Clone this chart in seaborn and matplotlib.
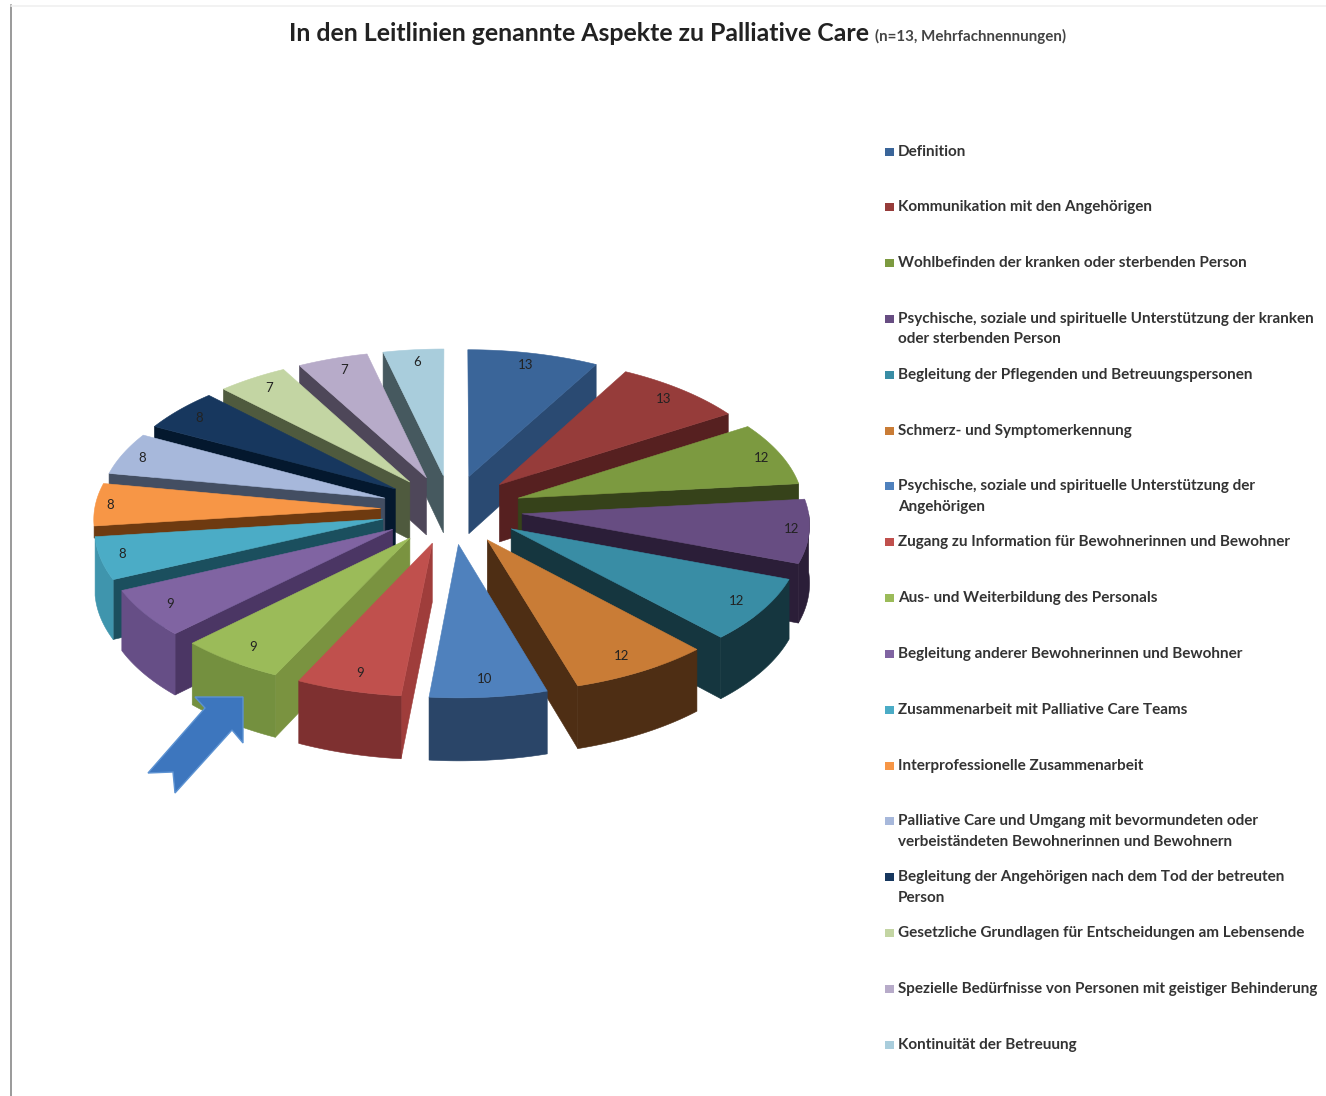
import numpy as np
import matplotlib
matplotlib.use("Agg")
import matplotlib.pyplot as plt
from matplotlib.patches import Polygon, Rectangle
import seaborn as sns

categories = [
    "Definition",
    "Kommunikation mit den Angehörigen",
    "Wohlbefinden der kranken oder sterbenden Person",
    "Psychische, soziale und spirituelle Unterstützung der kranken\noder sterbenden Person",
    "Begleitung der Pflegenden und Betreuungspersonen",
    "Schmerz- und Symptomerkennung",
    "Psychische, soziale und spirituelle Unterstützung der\nAngehörigen",
    "Zugang zu Information für Bewohnerinnen und Bewohner",
    "Aus- und Weiterbildung des Personals",
    "Begleitung anderer Bewohnerinnen und Bewohner",
    "Zusammenarbeit mit Palliative Care Teams",
    "Interprofessionelle Zusammenarbeit",
    "Palliative Care und Umgang mit bevormundeten oder\nverbeiständeten Bewohnerinnen und Bewohnern",
    "Begleitung der Angehörigen nach dem Tod der betreuten\nPerson",
    "Gesetzliche Grundlagen für Entscheidungen am Lebensende",
    "Spezielle Bedürfnisse von Personen mit geistiger Behinderung",
    "Kontinuität der Betreuung",
]
values = [13, 13, 12, 12, 12, 12, 10, 9, 9, 9, 8, 8, 8, 8, 7, 7, 6]
top_colors = ["#3A6599", "#963C3A", "#7C9A40", "#674D82", "#398DA5", "#C97C36",
              "#4F81BD", "#C0504D", "#9BBB59", "#8064A2", "#4BACC6", "#F79646",
              "#A7B8DB", "#17375E", "#C3D5A3", "#B7ABC9", "#A9CDDC"]
outer_colors = ["#2A4A72", "#562020", "#36421A", "#2B1E38", "#15363F", "#4E2E14",
                "#2A4568", "#7E3030", "#74903F", "#664E86", "#3F95AD", "#6E3A10",
                "#434E62", "#04182E", "#4F5A3E", "#4E4759", "#46595F"]
radial_colors = ["#2A4A72", "#562020", "#36421A", "#2B1E38", "#15363F", "#4E2E14",
                 "#2A4568", "#9F3D3B", "#7A9340", "#4B3664", "#1B4F5E", "#6E3A10",
                 "#434E62", "#04182E", "#4F5A3E", "#4E4759", "#46595F"]

sns.set_theme(style="white")
plt.rcParams["font.family"] = ["Lato", "DejaVu Sans"]
palette = sns.color_palette(top_colors)

W, H = 1326, 1096
fig = plt.figure(figsize=(W / 100, H / 100), dpi=100, facecolor="white")
ax = fig.add_axes([0, 0, 1, 1])
ax.set_xlim(0, W)
ax.set_ylim(H, 0)
ax.axis("off")

# pie projection
CX, CY = 451.5, 509.5
R, E = 286, 71
KY, Q = 0.486, 0.08 / 358
THICK = 58


def project(X, Y):
    s = 1 / (1 - Q * Y)
    return CX + X * s, CY + KY * Y * s, s


def pt(r, a, ox=0.0, oy=0.0):
    X = ox + r * np.sin(a)
    Y = oy - r * np.cos(a)
    return project(X, Y)


def lower(points):
    return [(x, y + THICK * s) for x, y, s in points]


def upper(points):
    return [(x, y) for x, y, s in points]


total = sum(values)
edges = np.cumsum([0] + values) / total * 2 * np.pi
order = np.argsort([-np.cos((edges[i] + edges[i + 1]) / 2) for i in range(len(values))])

for i in order:
    a0, a1 = edges[i], edges[i + 1]
    mid = (a0 + a1) / 2
    ox, oy = E * np.sin(mid), -E * np.cos(mid)
    arc_a = np.linspace(a0, a1, 40)
    arc = [pt(R, a, ox, oy) for a in arc_a]
    apex = pt(0, 0, ox, oy)
    kw = dict(linewidth=0.4, zorder=2 + list(order).index(i))
    if np.sin(a1) > 0:
        edge = [apex, arc[-1]]
        ax.add_patch(Polygon(upper(edge) + lower(edge)[::-1], fc=radial_colors[i], ec=radial_colors[i], **kw))
    if np.sin(a0) < 0:
        edge = [apex, arc[0]]
        low = lower(edge)
        # a face ending near the far-left point stays behind the next slice
        if abs(a0 - 1.5 * np.pi) < np.radians(10):
            low[1] = (arc[0][0], arc[0][1] + 12)
        ax.add_patch(Polygon(upper(edge) + low[::-1], fc=radial_colors[i], ec=radial_colors[i], **kw))
    vis = [p for p, a in zip(arc, arc_a) if np.cos(a) < 0]
    if len(vis) > 1 and abs(a0 - 1.5 * np.pi) >= np.radians(10):
        ax.add_patch(Polygon(upper(vis) + lower(vis)[::-1], fc=outer_colors[i], ec=outer_colors[i], **kw))
    ax.add_patch(Polygon(upper([apex] + arc), fc=palette[i], ec=palette[i], **kw))
    back = max(np.cos(mid), 0.0)
    rx = 272 - 45 * back
    lx = CX + ox + rx * np.sin(mid)
    _, ly, _ = pt(0.9 * R if np.cos(mid) > 0 else 0.89 * R, mid, ox, oy)
    ax.text(lx, ly, str(values[i]), ha="center", va="center", fontsize=9.5, color="#222222",
            zorder=40)

# arrow annotation
arrow = [(195, 697), (243, 697), (243, 743), (232, 730), (175, 793), (173, 772), (148, 773), (205, 708)]
ax.add_patch(Polygon(arrow, fc="#3D76BE", ec="#5C92D2", lw=1.0, zorder=50))

# title
ax.text(289, 33.5, "In den Leitlinien genannte Aspekte zu Palliative Care", fontsize=17.9,
        fontweight="bold", color="#222222", ha="left", va="center")
ax.text(875, 36, "(n=13, Mehrfachnennungen)", fontsize=10.9, fontweight="bold",
        color="#444444", ha="left", va="center")

# legend
for i, label in enumerate(categories):
    y = 151.5 + 55.83 * i
    ax.add_patch(Rectangle((885, y - 4), 9, 8, fc=palette[i], ec="none"))
    for k, line in enumerate(label.split("\n")):
        ax.text(898, y + 20.5 * k, line, fontsize=11.0, fontweight="bold", color="#333333",
                ha="left", va="center")

# frame lines of the source screenshot
ax.plot([11, 11], [5, H], color="#9a9a9a", lw=1.4)
ax.plot([11, W], [6, 6], color="#f0f0f0", lw=1.2)

fig.savefig("out.png", dpi=100, facecolor="white")
